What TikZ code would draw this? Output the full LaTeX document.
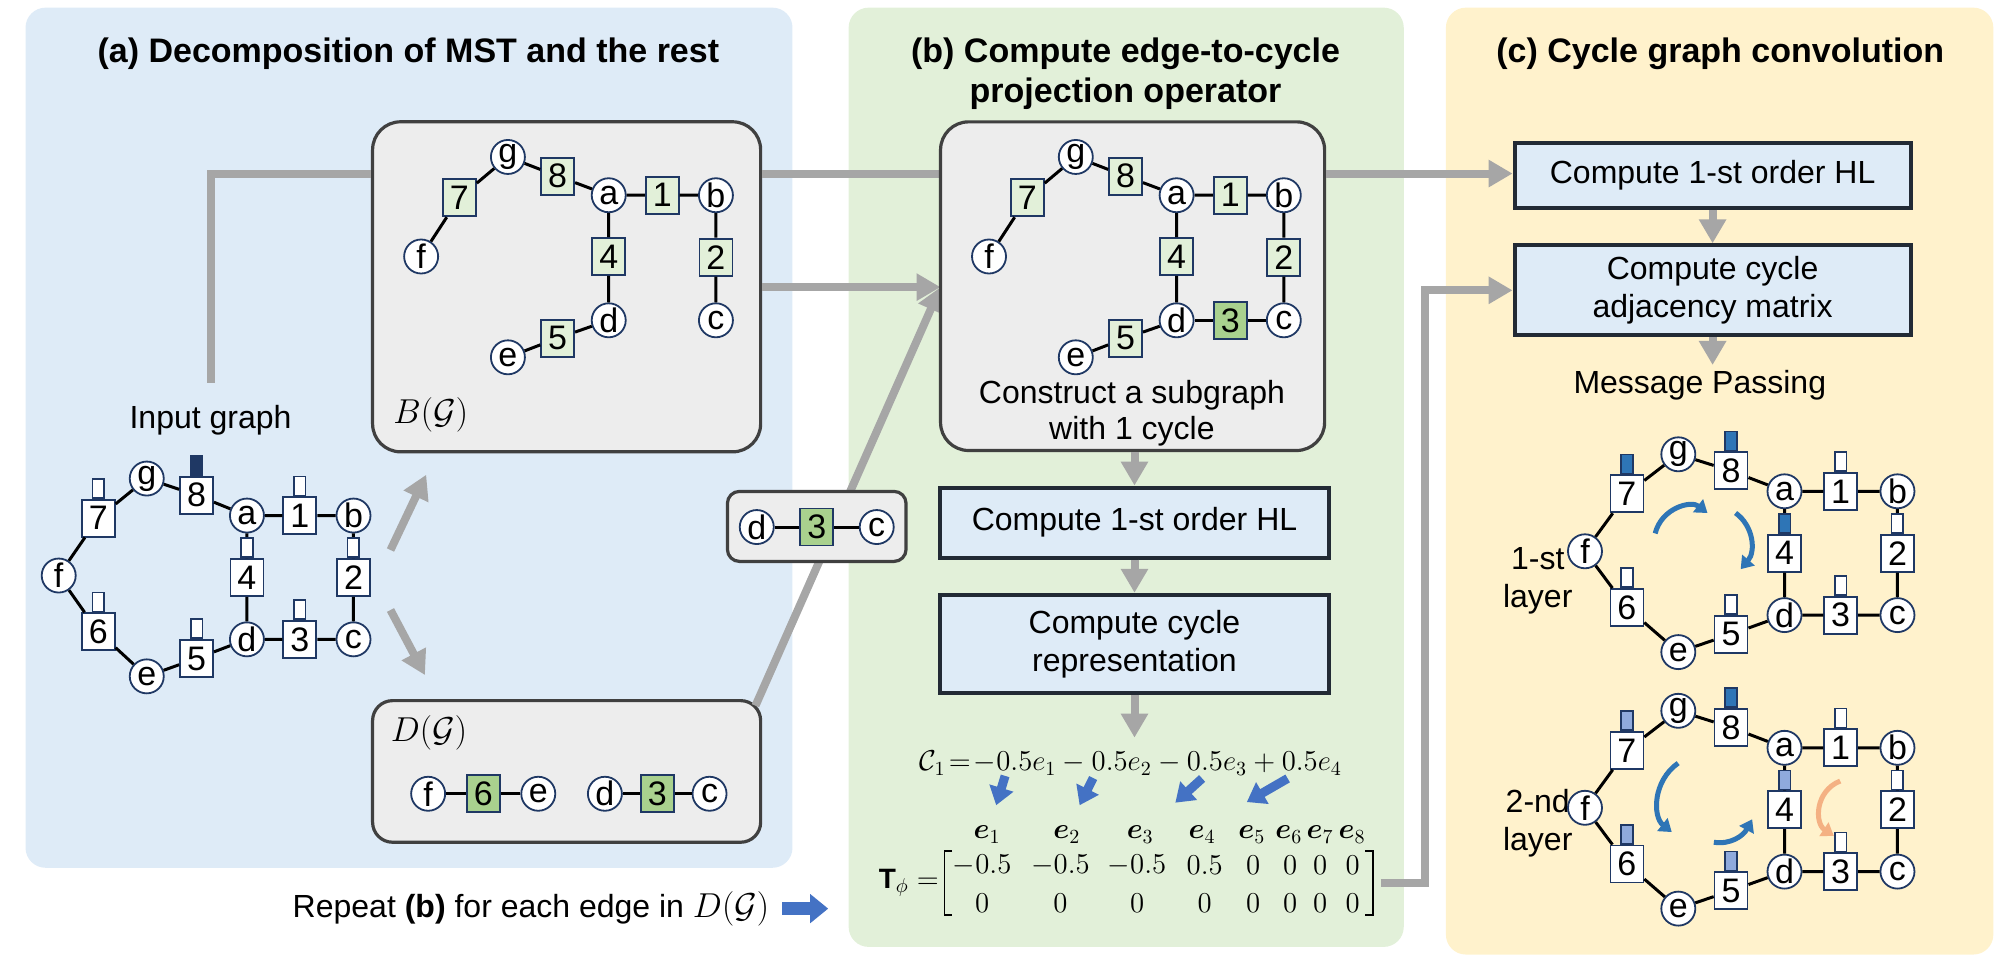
\documentclass[tikz,border=0pt]{standalone}
\usepackage{amsmath}
\usepackage{fontspec}
\setmainfont{Liberation Sans}
\usetikzlibrary{arrows.meta}
\definecolor{panA}{HTML}{DEEBF7}
\definecolor{panB}{HTML}{E2F0D9}
\definecolor{panC}{HTML}{FFF2CC}
\definecolor{boxgray}{HTML}{EDEDED}
\definecolor{boxedge}{HTML}{404040}
\definecolor{navy}{HTML}{1F3864}
\definecolor{lgreen}{HTML}{E2F0D9}
\definecolor{dgreen}{HTML}{A9D18E}
\definecolor{procfill}{HTML}{DEEBF7}
\definecolor{procedge}{HTML}{222A35}
\definecolor{arrgray}{HTML}{A6A6A6}
\definecolor{arrblue}{HTML}{4472C4}
\definecolor{midblue}{HTML}{2E75B6}
\definecolor{lblue}{HTML}{8FAADC}
\definecolor{salmon}{HTML}{F4B183}
\newcommand{\nf}{\fontsize{17}{17}\selectfont}
\newcommand{\tf}{\fontsize{16}{19}\selectfont}
\newcommand{\hf}{\fontsize{17}{20}\selectfont\bfseries}
\newcommand{\mf}{\fontsize{14}{16}\selectfont}
% cycle graph: #1 prefix, #2 #3 position of f, #4 xscale, #5..#9 indicator colours of 7,8,4,6,5
\newcommand{\cyclegraph}[9]{%
\begin{scope}[shift={(#2,#3)},xscale=#4]
 \node[vtx] (#1f) at (0,0) {f};
 \node[vtx] (#1g) at (69,-76) {g};
 \node[esq] (#1s7) at (31,-45) {7};
 \node[esq] (#1s8) at (108,-63) {8};
 \node[vtx] (#1a) at (147.5,-47) {a};
 \node[esq] (#1s1) at (189,-47) {1};
 \node[vtx] (#1b) at (231,-47) {b};
 \node[esq] (#1s4) at (147.5,1.5) {4};
 \node[esq] (#1s2) at (231,1.5) {2};
 \node[esq] (#1s6) at (31,44) {6};
 \node[vtx] (#1e) at (69,79) {e};
 \node[esq] (#1s5) at (108,65) {5};
 \node[vtx] (#1d) at (147.5,50) {d};
 \node[esq] (#1s3) at (189,50) {3};
 \node[vtx] (#1c) at (231,50) {c};
\end{scope}
\draw[ge] (#1f)--(#1s7) (#1s7)--(#1g) (#1g)--(#1s8) (#1s8)--(#1a) (#1a)--(#1s1) (#1s1)--(#1b)
 (#1b)--(#1s2) (#1s2)--(#1c) (#1c)--(#1s3) (#1s3)--(#1d) (#1d)--(#1s4) (#1s4)--(#1a)
 (#1d)--(#1s5) (#1s5)--(#1e) (#1e)--(#1s6) (#1s6)--(#1f);
\node[ind,fill=#5] (#1i7) at (#1s7.north) {};
\node[ind,fill=#6] (#1i8) at (#1s8.north) {};
\node[ind,fill=white] (#1i1) at (#1s1.north) {};
\node[ind,fill=white] (#1i2) at (#1s2.north) {};
\node[ind,fill=#7] (#1i4) at (#1s4.north) {};
\node[ind,fill=#8] (#1i6) at (#1s6.north) {};
\node[ind,fill=#9] (#1i5) at (#1s5.north) {};
\node[ind,fill=white] (#1i3) at (#1s3.north) {};
}
% spanning tree: #1 prefix, #2 #3 top-left corner of its box
\newcommand{\treegraph}[3]{%
\begin{scope}[shift={(#2,#3)}]
 \node[vtx] (#1f) at (38,105.5) {f};
 \node[gsq] (#1s7) at (68,59.5) {7};
 \node[vtx] (#1g) at (106,27.5) {g};
 \node[gsq] (#1s8) at (145,42.5) {8};
 \node[vtx] (#1a) at (185,57.5) {a};
 \node[gsq] (#1s1) at (227,57.5) {1};
 \node[vtx] (#1b) at (269,57.5) {b};
 \node[gsq] (#1s4) at (185,105.5) {4};
 \node[gsq] (#1s2) at (269,106) {2};
 \node[vtx] (#1d) at (185,155.5) {d};
 \node[vtx] (#1c) at (269,155.5) {c};
 \node[gsq] (#1s5) at (145,169.5) {5};
 \node[vtx] (#1e) at (106,184.5) {e};
\end{scope}
\draw[ge] (#1f)--(#1s7) (#1s7)--(#1g) (#1g)--(#1s8) (#1s8)--(#1a) (#1a)--(#1s1) (#1s1)--(#1b)
 (#1b)--(#1s2) (#1s2)--(#1c) (#1a)--(#1s4) (#1s4)--(#1d) (#1d)--(#1s5) (#1s5)--(#1e);
}
\begin{document}
\begin{tikzpicture}[x=0.638pt,y=-0.638pt,
  vtx/.style={circle,draw=navy,line width=0.9pt,fill=white,minimum size=17pt,inner sep=0pt,font=\nf},
  esq/.style={rectangle,draw=navy,line width=0.9pt,fill=white,minimum width=16.5pt,minimum height=18.5pt,inner sep=0pt,font=\nf},
  gsq/.style={esq,fill=lgreen},
  dsq/.style={esq,fill=dgreen},
  ind/.style={rectangle,draw=navy,line width=0.8pt,minimum width=5.8pt,minimum height=9.5pt,inner sep=0pt,anchor=south},
  ge/.style={line width=1.5pt,black},
  gbox/.style={draw=boxedge,line width=1.6pt,fill=boxgray,rounded corners=14pt,inner sep=0pt},
  proc/.style={draw=procedge,line width=2pt,fill=procfill,font=\tf,align=center,inner sep=0pt},
  garr/.style={draw=arrgray,line width=4pt,-{Triangle[length=12pt,width=13pt]}},
  gline/.style={draw=arrgray,line width=4pt},
  barr/.style={draw=arrblue,line width=4.5pt,-{Triangle[length=9pt,width=12pt]}},
  marr/.style={draw=midblue,line width=2.5pt,-{Triangle[length=6pt,width=8pt]}},
  sarr/.style={draw=salmon,line width=2.5pt,-{Triangle[length=6pt,width=8pt]}},
  txt/.style={font=\tf,inner sep=0pt},
  ttl/.style={font=\hf,inner sep=0pt,align=center},
  mth/.style={font=\mf,inner sep=0pt},
]
\useasboundingbox (0,0) rectangle (1568,750);
% panels
\fill[panA,rounded corners=10pt] (20,6) rectangle (621,680);
\fill[panB,rounded corners=10pt] (665,6) rectangle (1100,742);
\fill[panC,rounded corners=10pt] (1133,6) rectangle (1562,748);
% titles
\node[ttl] (ta) at (320,42) {(a) Decomposition of MST and the rest};
\node[ttl] (tb) at (882,57.5) {(b) Compute edge-to-cycle\\projection operator};
\node[ttl] (tc) at (1348,42) {(c) Cycle graph convolution};
% coordinates for connectors
\coordinate (inTop) at (165,300);
\coordinate (y136) at (0,136);
\coordinate (sIn) at (737,225);
\coordinate (dOut) at (592,553);
\coordinate (upS) at (306,431);
\coordinate (upE) at (334,372);
\coordinate (dnS) at (306,478);
\coordinate (dnE) at (333,529);
% panel (a)
\node[gbox,minimum width=194pt,minimum height=165pt] (Bbox) at (444,224.75) {};
\node[gbox,rounded corners=10pt,minimum width=194pt,minimum height=70.8pt] (Dbox) at (444,604.5) {};
\draw[gline] (inTop) |- (Bbox.west |- y136);
\draw[gline] (Bbox.east |- y136) -- (737,136);
\draw[garr] (Bbox.east |- sIn) -- (sIn);
\draw[garr] (dOut) -- (sIn);
\draw[garr] (upS) -- (upE);
\draw[garr] (dnS) -- (dnE);
\node[txt] (inlbl) at (165,329) {Input graph};
\cyclegraph{i}{46}{451}{1}{white}{navy}{white}{white}{white}
\treegraph{B}{292}{95.5}
\node[anchor=west,inner sep=0pt,font=\fontsize{17}{17}\selectfont] (blbl) at (308,325) {$B(\mathcal{G})$};
\node[anchor=west,inner sep=0pt,font=\fontsize{17}{17}\selectfont] (dlbl) at (306,574) {$D(\mathcal{G})$};
\node[vtx] (Df) at (335.5,622) {f};
\node[dsq] (Ds6) at (378.7,622) {6};
\node[vtx] (De) at (421.8,622) {e};
\node[vtx] (Dd) at (474,622) {d};
\node[dsq] (Ds3) at (515,622) {3};
\node[vtx] (Dc) at (556,622) {c};
\draw[ge] (Df)--(Ds6) (Ds6)--(De) (Dd)--(Ds3) (Ds3)--(Dc);
% small d-3-c box
\node[gbox,rounded corners=6pt,minimum width=89.3pt,minimum height=35pt] (smbox) at (640,412.5) {};
\node[vtx] (Xd) at (593,413) {d};
\node[dsq] (Xs3) at (640,413) {3};
\node[vtx] (Xc) at (687,413) {c};
\draw[ge] (Xd)--(Xs3) (Xs3)--(Xc);
\node[txt,anchor=east] (rep) at (603,712) {Repeat \textbf{(b)} for each edge in $D(\mathcal{G})$};
\coordinate (repS) at (613,712);
\coordinate (repE) at (649,712);
\draw[draw=arrblue,line width=6.5pt,-{Triangle[length=9pt,width=14pt]}] (repS) -- (repE);
% panel (b)
\node[gbox,minimum width=192pt,minimum height=164.3pt] (Sbox) at (887.5,224.25) {};
\treegraph{S}{737}{95.5}
\node[dsq] (Ss3) at (964,251) {3};
\draw[ge] (Sd)--(Ss3) (Ss3)--(Sc);
\node[txt,align=center,font=\fontsize{16}{18}\selectfont] (cons) at (887,324) {Construct a subgraph\\with 1 cycle};
\node[proc,minimum width=194pt,minimum height=35pt] (bHL) at (889,409.5) {Compute 1-st order HL};
\node[proc,minimum width=194pt,minimum height=49pt] (bRep) at (889,504.5) {Compute cycle\\representation};
\draw[garr] (bHL.north |- Sbox.south) -- (bHL.north);
\draw[garr] (bHL.south) -- (bRep.north);
\coordinate (fTop) at (889,578);
\draw[garr] (bRep.south) -- (fTop);
\node[mth,font=\fontsize{14.6}{16}\selectfont] (form) at (886,598) {$\mathcal{C}_1\!=\!-0.5e_1-0.5e_2-0.5e_3+0.5e_4$};
\coordinate (b1s) at (787.6,608); \coordinate (b1e) at (780.6,631);
\coordinate (b2s) at (856.6,609.7); \coordinate (b2e) at (846,631);
\coordinate (b3s) at (942,610); \coordinate (b3e) at (921,629);
\coordinate (b4s) at (1009,610); \coordinate (b4e) at (977,628.5);
\draw[barr] (b1s) -- (b1e);
\draw[barr] (b2s) -- (b2e);
\draw[barr] (b3s) -- (b3e);
\draw[barr] (b4s) -- (b4e);
\foreach \n/\xx in {1/773.5,2/836,3/893.5,4/942,5/981,6/1010,7/1034.5,8/1059.5}
  \node[mth] (h\n) at (\xx,654) {$\boldsymbol{e}_{\n}$};
\foreach \n/\xx/\v in {1/769.6/-0.5,2/831/-0.5,3/891/-0.5,4/944/0.5,5/982/0,6/1011/0,7/1034.5/0,8/1060/0}{
  \node[mth] (mA\n) at (\xx,678) {$\v$};
  \node[mth] (mB\n) at (\xx,708) {$0$};
}
\node[mth,anchor=east] (tphi) at (736,692) {$\mathbf{T}_{\phi}=$};
\draw[line width=0.7pt] (746,667) -- (740,667) -- (740,717) -- (746,717);
\draw[line width=0.7pt] (1070,667) -- (1076,667) -- (1076,717) -- (1070,717);
% panel (c)
\node[proc,minimum width=198pt,minimum height=32.5pt] (cHL) at (1342,137.5) {Compute 1-st order HL};
\node[proc,minimum width=198pt,minimum height=45pt] (cAdj) at (1342,227.5) {Compute cycle\\adjacency matrix};
\draw[garr] (Sbox.east |- y136) -- (cHL.west |- y136);
\coordinate (matOut) at (1082,692);
\coordinate (bend) at (1117,692);
\draw[garr] (matOut) -- (bend) |- (cAdj.west);
\draw[garr] (cHL.south) -- (cAdj.north);
\node[txt] (mp) at (1332,302) {Message Passing};
\coordinate (mpIn) at (1342,286);
\draw[garr] (cAdj.south) -- (mpIn);
\node[txt,align=center] (l1) at (1205,455) {1-st\\layer};
\node[txt,align=center] (l2) at (1205,645) {2-nd\\layer};
\cyclegraph{p}{1242}{432}{1.06}{midblue}{midblue}{midblue}{white}{white}
\cyclegraph{q}{1242}{633}{1.06}{lblue}{midblue}{lblue}{lblue}{lblue}
\draw[marr] (1297,418) .. controls (1302,398) and (1325,392) .. (1338,402);
\draw[marr] (1360,402) .. controls (1374,412) and (1376,432) .. (1364,446);
\draw[marr] (1315,598) .. controls (1295,612) and (1295,640) .. (1310,652);
\draw[marr] (1343,660) .. controls (1356,662) and (1366,655) .. (1373,642);
\draw[sarr] (1442,612) .. controls (1422,620) and (1422,645) .. (1437,655);
\end{tikzpicture}
\end{document}
